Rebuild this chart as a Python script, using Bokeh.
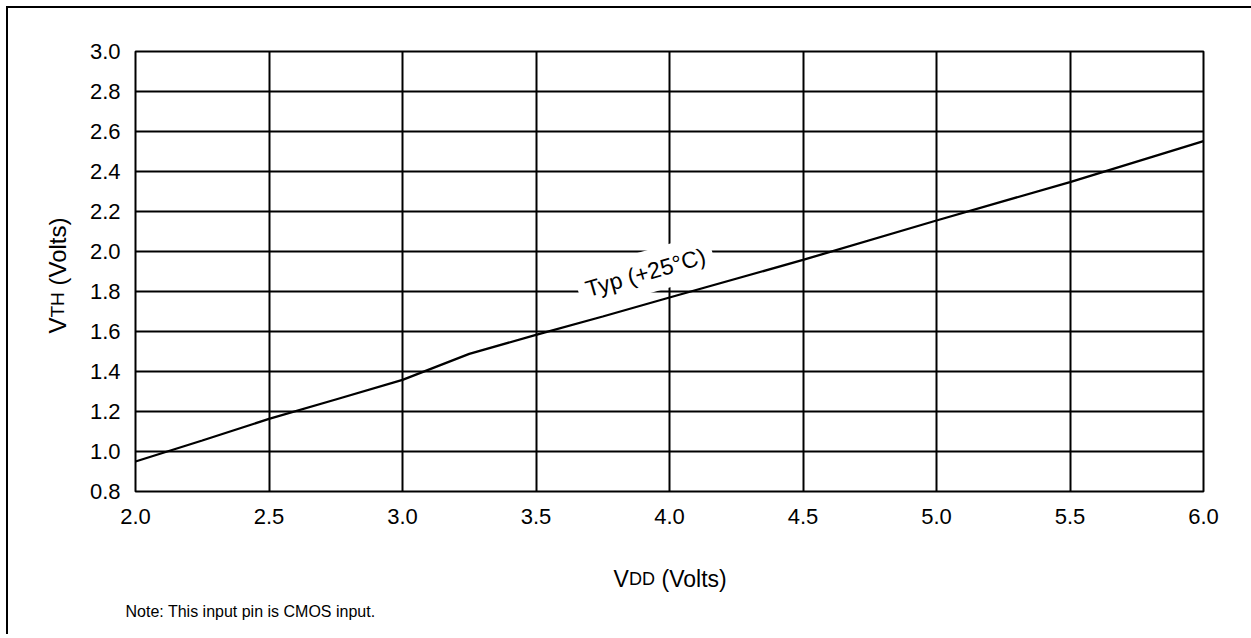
import math
from bokeh.plotting import figure
from bokeh.models import Range1d, FixedTicker, PrintfTickFormatter, Label
from bokeh.embed import file_html
from bokeh.resources import INLINE

# ---- data ----
vdd = [2.0, 2.25, 2.5, 2.75, 3.0, 3.25, 3.5, 3.75, 4.0, 4.5, 5.0, 5.5, 6.0]
vth = [0.95, 1.055, 1.163, 1.26, 1.358, 1.488, 1.583, 1.675, 1.77, 1.958, 2.155, 2.347, 2.552]
x_ticks = [2.0, 2.5, 3.0, 3.5, 4.0, 4.5, 5.0, 5.5, 6.0]
y_ticks = [0.8, 1.0, 1.2, 1.4, 1.6, 1.8, 2.0, 2.2, 2.4, 2.6, 2.8, 3.0]
curve_label = "Typ (+25°C)"
note_text = "Note: This input pin is CMOS input."

FONT = "Liberation Sans"

X0, X1 = 2.0, 6.0
Y0, Y1 = 0.8, 3.0
FW, FH = 1068, 440
ORG = 8                      # canvas origin on the page (css margin + border)
LEFT, TOP = 135 - ORG, 51 - ORG
W, H = 1243, 626
FRAME_L, FRAME_T = ORG + LEFT, ORG + TOP


def px_x(px):
    return X0 + (px - FRAME_L) * (X1 - X0) / FW


def px_y(py):
    return Y1 - (py - FRAME_T) * (Y1 - Y0) / FH


p = figure(
    frame_width=FW, frame_height=FH,
    min_border_left=LEFT, min_border_top=TOP,
    min_border_right=W - LEFT - FW, min_border_bottom=H - TOP - FH,
    x_range=Range1d(X0, X1), y_range=Range1d(Y0, Y1),
    output_backend="svg", toolbar_location=None,
)
p.styles = {
    "margin-left": "6px", "margin-top": "6px",
    "border-left": "2px solid black", "border-top": "2px solid black",
}
p.background_fill_color = "white"
p.border_fill_color = "white"
p.outline_line_color = "black"
p.outline_line_width = 2

for ax, ticks in ((p.xaxis[0], x_ticks), (p.yaxis[0], y_ticks)):
    ax.ticker = FixedTicker(ticks=ticks)
    ax.formatter = PrintfTickFormatter(format="%.1f")
    ax.axis_line_color = None
    ax.major_tick_line_color = None
    ax.minor_tick_line_color = None
    ax.major_tick_out = 0
    ax.major_tick_in = 0
    ax.major_label_text_font = FONT
    ax.major_label_text_font_size = "22px"
    ax.major_label_text_color = "black"

p.xaxis.major_label_standoff = 17
p.yaxis.major_label_standoff = 15

p.xgrid.ticker = FixedTicker(ticks=x_ticks)
p.ygrid.ticker = FixedTicker(ticks=y_ticks)
for g in (p.xgrid[0], p.ygrid[0]):
    g.grid_line_color = "black"
    g.grid_line_width = 2
    g.grid_line_alpha = 1.0

p.line(vdd, vth, line_color="black", line_width=2.3)

# curve label with white backing
p.add_layout(Label(
    x=px_x(645), y=px_y(272), text=curve_label,
    angle=math.radians(16), text_align="center", text_baseline="middle",
    text_font=FONT, text_font_size="23px", text_color="black",
    background_fill_color="white", padding=8,
))

# x axis title: V + DD (smaller) + (Volts)
xb = px_y(578)
for txt, xpx, fs in (("V", 613, "23px"), ("DD", 628.5, "18px"), ("(Volts)", 661, "23px")):
    p.add_layout(Label(x=px_x(xpx), y=xb, text=txt, text_font=FONT, text_font_size=fs,
                       text_color="black", text_align="left", text_baseline="alphabetic"), "below")

# note
p.add_layout(Label(x=px_x(125), y=px_y(611), text=note_text, text_font=FONT,
                   text_font_size="16px", text_color="black",
                   text_align="left", text_baseline="alphabetic"), "below")

# y axis title rotated: V + TH (smaller) + (Volts)
yx = px_x(57)
for txt, ypx, fs in (("V", 333, "24px"), ("TH", 317, "19px"), ("(Volts)", 285, "24px")):
    p.add_layout(Label(x=yx, y=px_y(ypx), text=txt, text_font=FONT, text_font_size=fs,
                       text_color="black", angle=math.pi / 2,
                       text_align="left", text_baseline="alphabetic"), "left")

open("out.html", "w").write(file_html(p, INLINE))
